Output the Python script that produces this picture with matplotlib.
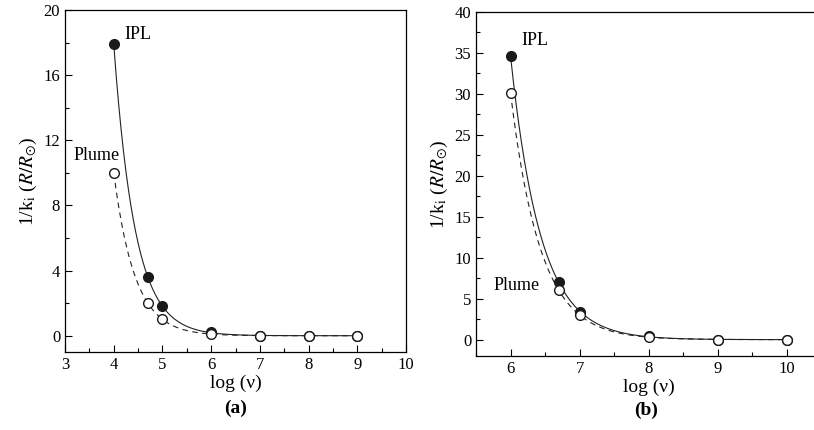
import numpy as np
import matplotlib
matplotlib.use("Agg")
import matplotlib.pyplot as plt
from matplotlib.ticker import MultipleLocator

plt.rcParams['font.family'] = ['Liberation Serif', 'DejaVu Serif']
plt.rcParams['mathtext.fontset'] = 'stix'

# panel (a)
logv_a = [4.0, 4.7, 5.0, 6.0, 7.0, 8.0, 9.0]
ipl_a = [17.9, 3.6, 1.8, 0.2, 0.0, 0.0, 0.0]
plume_a = [10.0, 2.0, 1.0, 0.1, 0.0, 0.0, 0.0]

# panel (b)
logv_b = [6.0, 6.7, 7.0, 8.0, 9.0, 10.0]
ipl_b = [34.6, 7.0, 3.4, 0.4, 0.0, 0.0]
plume_b = [30.1, 6.0, 3.0, 0.3, 0.0, 0.0]


def exp_fit(x, y):
    # least-squares fit of y = A*exp(-k*(x - x0)), k by grid search
    x = np.asarray(x, float)
    y = np.asarray(y, float)
    x0 = x[0]
    best = None
    for k in np.linspace(0.5, 5.0, 4501):
        e = np.exp(-k * (x - x0))
        A = np.sum(y * e) / np.sum(e * e)
        r = np.sum((y - A * e) ** 2)
        if best is None or r < best[0]:
            best = (r, A, k)
    _, A, k = best
    xs = np.linspace(x[0], x[-1], 300)
    return xs, A * np.exp(-k * (xs - x0))


def style_axes(ax):
    ax.tick_params(which='both', direction='in', top=False, right=False,
                   labelsize=12, width=0.8)
    ax.tick_params(which='major', length=5)
    ax.tick_params(which='minor', length=3)
    for s in ax.spines.values():
        s.set_linewidth(0.9)


fig = plt.figure(figsize=(8.14, 4.30), dpi=100)
ax1 = fig.add_axes([0.0799, 0.1814, 0.419, 0.795])
ax2 = fig.add_axes([0.5848, 0.172, 0.424, 0.8007])

for ax, x, ipl, plume in [(ax1, logv_a, ipl_a, plume_a), (ax2, logv_b, ipl_b, plume_b)]:
    xs, ys = exp_fit(x, ipl)
    ax.plot(xs, ys, '-', color='#222222', lw=0.8)
    xs, ys = exp_fit(x, plume)
    ax.plot(xs, ys, '--', color='#222222', lw=0.8, dashes=(5, 4))
    ax.plot(x, ipl, 'o', ms=7, color='#1a1a1a', zorder=3)
    ax.plot(x, plume, 'o', ms=7, mfc='white', mec='#1a1a1a', mew=1.0, zorder=4)
    style_axes(ax)
    ax.set_xlabel('log (ν)', fontsize=14, labelpad=1)
    ax.set_ylabel(r'1/k$_\mathrm{i}$ ($R/R_{\odot}$)', fontsize=14, labelpad=3)

ax1.set_xlim(3, 10)
ax1.set_ylim(-1, 20)
ax1.xaxis.set_major_locator(MultipleLocator(1))
ax1.xaxis.set_minor_locator(MultipleLocator(0.5))
ax1.yaxis.set_major_locator(MultipleLocator(4))
ax1.yaxis.set_minor_locator(MultipleLocator(2))
ax1.text(4.21, 18.5, 'IPL', fontsize=13, va='center')
ax1.text(3.18, 11.1, 'Plume', fontsize=13, va='center')
ax1.text(0.5, -0.164, '(a)', transform=ax1.transAxes, fontsize=14,
         fontweight='bold', ha='center', va='center')

ax2.set_xlim(5.5, 10.5)
ax2.set_ylim(-2, 40)
ax2.xaxis.set_major_locator(MultipleLocator(1))
ax2.xaxis.set_minor_locator(MultipleLocator(0.5))
ax2.yaxis.set_major_locator(MultipleLocator(5))
ax2.yaxis.set_minor_locator(MultipleLocator(2.5))
ax2.text(6.15, 36.5, 'IPL', fontsize=13, va='center')
ax2.text(5.75, 6.6, 'Plume', fontsize=13, va='center')
ax2.text(0.494, -0.157, '(b)', transform=ax2.transAxes, fontsize=14,
         fontweight='bold', ha='center', va='center')

fig.savefig('out.png', dpi=100)
